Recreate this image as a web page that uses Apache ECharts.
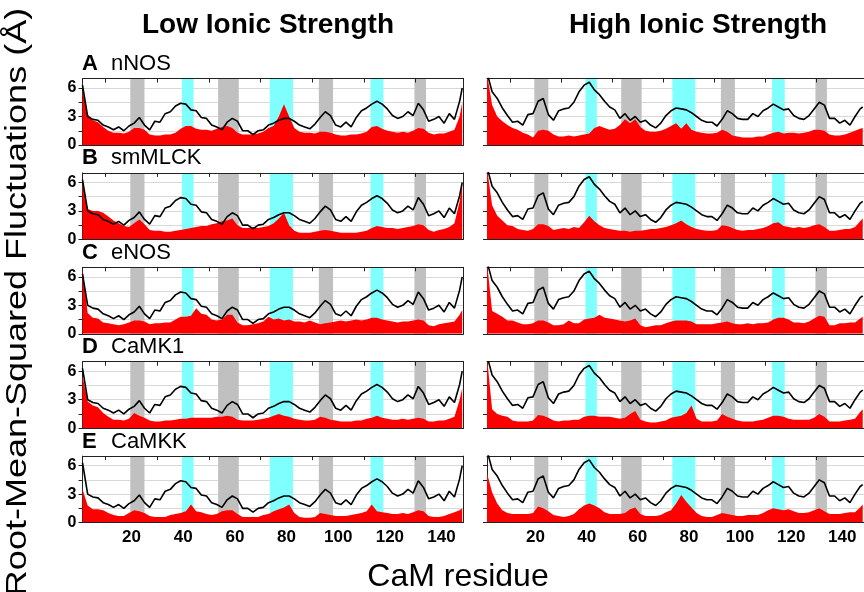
<!DOCTYPE html>
<html>
<head>
<meta charset="utf-8">
<script src="https://cdn.jsdelivr.net/npm/echarts@6/dist/echarts.min.js"></script>
<style>
  html, body { margin: 0; padding: 0; background: #fff; }
  #chart { width: 864px; height: 592px; }
</style>
</head>
<body>
<div id="chart"></div>
<script>
// residue numbers (every second residue)
const residues = [1,3,5,7,9,11,13,15,17,19,21,23,25,27,29,31,33,35,37,39,
  41,43,45,47,49,51,53,55,57,59,61,63,65,67,69,71,73,75,77,79,
  81,83,85,87,89,91,93,95,97,99,101,103,105,107,109,111,113,115,117,119,
  121,123,125,127,129,131,133,135,137,139,141,143,145,147,148];

// shaded regions (residue ranges)
const grayBands = [[19.5, 25], [53.5, 61.5], [92.5, 98], [129.5, 134]];
const cyanBands = [[39.5, 44], [73.5, 82.5], [112.5, 117.5]];

const xTickLabels = [20, 40, 60, 80, 100, 120, 140];
const topTicks = [10, 30, 50, 70, 90, 110, 130];
const yTickLabels = [0, 3, 6];
const yTicks = [0, 1.5, 3, 4.5, 6];

const letters = ['A', 'B', 'C', 'D', 'E'];
const peptides = ['nNOS', 'smMLCK', 'eNOS', 'CaMK1', 'CaMKK'];

// black line: free CaM, same in every panel of a column
const freeLow = [6.3,3.0,2.7,2.6,2.1,1.9,1.6,1.9,1.5,2.0,
  2.3,2.9,2.1,1.6,2.5,2.4,3.3,3.5,4.1,4.4,
  4.3,3.7,3.6,2.9,2.8,2.1,1.9,1.6,2.4,2.8,
  2.5,1.5,1.5,1.1,1.5,1.6,2.1,2.3,2.6,2.8,
  2.8,2.5,2.1,1.9,1.7,2.2,2.9,3.5,3.1,2.1,
  1.9,2.4,1.9,2.9,3.6,3.9,4.3,4.6,4.3,3.8,
  3.1,2.8,3.0,3.5,3.1,4.4,3.7,2.5,2.7,3.0,
  2.3,3.3,2.7,4.6,6.0];
const freeHigh = [7.6,5.6,4.9,3.9,3.1,2.4,2.5,2.1,3.2,3.3,
  4.6,4.9,3.2,2.6,3.6,3.8,3.9,4.5,5.6,6.3,
  6.6,5.8,5.3,4.6,4.0,3.7,2.8,3.3,2.6,3.0,
  2.4,2.6,2.1,1.8,2.3,3.1,3.6,3.9,3.8,3.7,
  3.4,3.0,2.6,2.4,2.4,2.0,2.7,3.6,3.3,2.8,
  2.7,2.7,3.3,3.0,3.6,3.9,4.3,4.0,3.7,3.8,
  3.1,2.8,2.7,3.1,3.8,4.5,4.2,2.8,2.8,2.3,
  2.6,2.1,3.0,3.8,4.0];

// red fill: CaM bound to each peptide
const lowNNOS = [5.8,3.2,2.6,2.4,1.9,1.5,1.3,1.3,1.2,1.4, 1.8,1.8,1.6,1.1,1.0,1.0,1.1,1.1,1.3,1.7,
  2.0,2.0,1.7,1.6,1.6,1.5,1.7,1.9,2.0,1.8, 1.3,1.1,1.1,1.1,1.2,1.4,1.8,2.0,3.0,4.3,
  3.0,1.8,1.4,1.3,1.3,1.2,1.4,1.4,1.3,1.1, 1.0,1.0,1.1,1.1,1.2,1.4,1.9,2.0,1.7,1.5,
  1.4,1.3,1.4,1.3,1.5,1.8,1.7,1.3,1.1,1.2, 1.2,1.4,1.6,3.0,4.5];
const lowSMMLCK = [6.0,3.2,3.0,3.0,2.8,2.4,2.0,1.7,1.4,1.3, 1.7,2.1,1.6,1.0,0.9,0.9,0.8,0.8,0.9,1.0,
  1.1,1.2,1.3,1.4,1.4,1.6,1.7,1.9,2.0,2.2, 1.5,1.2,1.2,1.3,1.2,1.3,1.4,1.7,2.2,2.8,
  1.5,0.9,0.7,0.7,0.7,0.8,0.9,1.0,0.9,0.8, 0.7,0.7,0.7,0.7,0.8,0.9,1.2,1.4,1.3,1.2,
  1.2,1.1,1.2,1.3,1.4,1.6,1.5,1.0,0.8,1.0, 1.1,1.3,1.7,4.0,6.0];
const lowENOS = [6.9,2.2,1.7,1.6,1.2,1.1,1.0,0.9,1.0,1.2, 1.4,1.4,1.3,1.0,1.1,1.1,1.2,1.2,1.5,1.8,
  1.8,1.9,2.7,2.1,2.0,1.5,1.4,1.5,2.0,2.0, 1.2,0.9,0.9,1.0,1.1,1.3,1.8,1.5,1.6,1.4,
  1.5,1.3,1.3,1.2,1.4,1.2,1.0,1.1,1.2,1.3, 1.4,1.3,1.4,1.5,1.4,1.5,1.7,1.7,1.5,1.4,
  1.3,1.2,1.3,1.3,1.4,1.5,1.4,0.9,0.8,1.0, 1.1,1.2,1.3,2.0,2.5];
const lowCAMK1 = [5.5,2.8,2.4,2.2,1.6,1.2,0.9,0.9,0.8,1.0, 1.6,1.3,1.1,0.8,0.7,0.7,0.8,0.8,0.9,1.0,
  1.0,1.1,1.1,1.1,1.1,1.1,1.2,1.2,1.3,1.2, 0.9,0.8,0.8,0.8,0.9,1.0,1.1,1.3,1.5,1.3,
  1.2,1.0,0.9,0.8,0.8,0.9,1.2,1.1,0.9,0.8, 0.7,0.7,0.7,0.8,0.8,1.0,1.1,1.3,1.1,1.0,
  0.9,0.9,1.0,0.9,1.0,1.1,1.0,0.7,0.7,0.8, 0.8,1.0,1.2,3.0,4.2];
const lowCAMKK = [3.5,1.8,1.4,1.4,1.3,1.0,0.8,0.7,0.7,1.0, 1.3,1.2,1.0,0.7,0.6,0.6,0.6,0.8,0.9,1.0,
  1.2,1.9,1.2,1.1,0.9,0.8,0.9,1.2,1.3,1.3, 0.9,0.6,0.6,0.6,0.6,0.8,0.9,1.2,1.4,1.6,
  1.9,1.0,0.6,0.5,0.5,0.6,1.0,0.9,0.8,0.7, 0.7,0.7,0.8,0.9,1.0,1.2,1.9,1.2,1.1,1.0,
  0.9,0.9,1.0,0.9,1.1,1.3,1.2,0.7,0.6,0.6, 0.7,0.9,1.1,1.3,1.5];

const highNNOS = [7.5,4.2,3.0,2.5,2.1,1.8,1.6,1.3,1.1,0.8, 1.5,1.6,1.5,1.1,0.9,0.9,1.0,0.9,1.0,1.1,
  1.2,1.8,2.0,1.8,1.6,1.7,2.1,2.7,2.3,2.7, 1.9,1.5,1.4,1.4,1.5,1.7,2.0,2.3,1.7,2.3,
  1.6,1.4,1.3,1.2,1.2,1.3,1.6,1.4,1.0,0.9, 0.8,0.8,0.8,0.9,0.9,1.1,1.3,1.4,1.2,1.3,
  1.3,1.2,1.3,1.4,1.6,1.6,1.5,1.1,1.0,1.0, 1.1,1.3,1.5,1.7,1.8];
const highSMMLCK = [7.5,3.6,2.5,2.0,1.5,1.4,1.1,1.0,0.9,1.1, 1.6,1.6,1.4,1.0,1.1,1.2,1.1,1.3,1.2,1.8,
  2.5,1.9,1.5,1.2,1.1,1.0,0.9,0.9,0.8,0.9, 0.9,1.0,1.1,1.1,1.2,1.3,1.5,1.7,2.0,1.6,
  1.3,1.1,1.0,0.9,0.9,1.0,1.5,1.4,1.2,1.0, 0.9,1.0,1.0,1.1,1.2,1.4,1.7,1.8,1.4,1.3,
  1.2,1.3,1.2,1.3,1.5,1.6,1.3,0.9,0.9,1.0, 1.1,1.1,1.3,1.9,2.2];
const highENOS = [7.5,2.4,2.1,1.8,1.4,1.4,1.2,1.0,1.0,1.1, 1.4,1.4,1.2,0.9,0.9,1.0,1.4,1.1,1.1,1.5,
  1.6,1.7,2.0,1.7,1.6,1.5,1.4,1.3,1.4,1.6, 0.9,0.7,0.8,0.9,0.9,1.1,1.3,1.4,1.4,1.4,
  1.3,1.0,1.0,1.0,1.0,1.1,1.2,1.3,1.1,1.0, 1.0,1.1,1.0,1.1,1.1,1.2,1.5,1.7,1.7,1.5,
  1.2,1.2,1.1,1.3,1.6,1.9,1.8,0.9,0.9,1.1, 1.1,1.2,1.2,1.6,1.8];
const highCAMK1 = [7.5,2.0,1.5,1.3,1.2,0.8,0.7,0.7,0.7,0.8, 1.4,1.3,1.1,0.8,0.7,0.8,0.8,0.9,0.9,1.2,
  1.3,1.3,1.2,1.2,1.2,1.1,1.0,1.1,1.5,1.8, 0.9,0.7,0.6,0.6,0.7,0.8,1.1,1.2,1.3,1.6,
  2.4,1.0,0.7,0.7,0.7,0.8,1.5,1.2,1.0,0.8, 0.7,0.7,0.7,0.8,0.9,1.1,1.3,1.3,1.2,1.0,
  0.9,0.9,0.9,0.9,1.1,1.5,1.2,0.7,0.7,0.7, 0.8,0.9,1.0,1.7,2.0];
const highCAMKK = [5.2,3.2,2.0,1.3,1.0,0.9,0.9,0.9,0.9,1.0, 1.7,1.5,1.2,0.8,0.7,0.6,0.7,0.9,1.4,1.8,
  2.0,1.8,1.5,1.1,0.9,0.9,0.9,1.0,1.4,1.6, 0.9,0.7,0.7,0.7,0.8,1.1,1.3,2.0,2.9,2.2,
  1.6,1.0,0.7,0.6,0.6,0.8,1.0,0.9,0.8,0.7, 0.7,0.8,0.8,0.8,1.0,1.3,1.5,1.4,1.3,1.4,
  1.2,1.0,1.0,1.1,1.3,1.5,1.2,0.9,0.9,0.9, 1.0,1.1,1.1,1.6,1.9];

const lowSets = [lowNNOS, lowSMMLCK, lowENOS, lowCAMK1, lowCAMKK];
const highSets = [highNNOS, highSMMLCK, highENOS, highCAMK1, highCAMKK];

const FONT = '"Liberation Sans", Arial, Helvetica, sans-serif';
const frame = { color: '#222', width: 1 };

const pairs = (vals) => residues.map((r, i) => [r, vals[i]]);

const grid = [], xAxis = [], yAxis = [], series = [];

for (let row = 0; row < 5; row++) {
  for (let col = 0; col < 2; col++) {
    const g = grid.length;
    grid.push({
      left: col === 0 ? 82.5 : 487,
      top: 78.5 + row * 94.4,
      width: 381,
      height: 66.5
    });
    // bottom axis
    xAxis.push({
      gridIndex: g, type: 'value', min: 1, max: 148.5, position: 'bottom', z: 3,
      axisLine: { show: true, onZero: false, lineStyle: frame },
      axisTick: { show: false },
      axisLabel: {
        show: row === 4, customValues: xTickLabels, margin: 6,
        color: '#000', fontWeight: 'bold', fontSize: 17, fontFamily: FONT
      },
      splitLine: { show: false }
    });
    // top axis (frame + inward ticks)
    xAxis.push({
      gridIndex: g, type: 'value', min: 1, max: 148.5, position: 'top', z: 3,
      axisLine: { show: true, onZero: false, lineStyle: frame },
      axisTick: { show: true, inside: true, length: 4, customValues: topTicks, lineStyle: frame },
      axisLabel: { show: false },
      splitLine: { show: false }
    });
    // left axis with grid lines
    yAxis.push({
      gridIndex: g, type: 'value', min: 0, max: 7, interval: 1.5, position: 'left', z: 0,
      axisLine: { show: true, onZero: false, lineStyle: frame },
      axisTick: { show: true, length: 4, customValues: yTicks, lineStyle: frame },
      axisLabel: {
        show: col === 0, customValues: yTickLabels, margin: 6,
        color: '#000', fontWeight: 'bold', fontSize: 16, fontFamily: FONT
      },
      splitLine: { show: true, lineStyle: { color: '#d9d9d9', width: 1 } }
    });
    // right frame
    yAxis.push({
      gridIndex: g, type: 'value', min: 0, max: 7, position: 'right', z: 3,
      axisLine: { show: true, onZero: false, lineStyle: frame },
      axisTick: { show: false }, axisLabel: { show: false }, splitLine: { show: false }
    });

    const xi = 2 * g, yi = 2 * g;
    const areas = [];
    grayBands.forEach(b => areas.push([{ xAxis: b[0], itemStyle: { color: '#c0c0c0' } }, { xAxis: b[1] }]));
    cyanBands.forEach(b => areas.push([{ xAxis: b[0], itemStyle: { color: '#80ffff' } }, { xAxis: b[1] }]));

    series.push({
      type: 'line', xAxisIndex: xi, yAxisIndex: yi, data: [], z: 1, silent: true,
      markArea: { silent: true, itemStyle: { opacity: 1 }, data: areas }
    });
    series.push({
      type: 'line', xAxisIndex: xi, yAxisIndex: yi, z: 2, silent: true,
      data: pairs(col === 0 ? lowSets[row] : highSets[row]),
      symbol: 'none', lineStyle: { width: 0 },
      areaStyle: { color: '#ff0000', opacity: 1 }
    });
    series.push({
      type: 'line', xAxisIndex: xi, yAxisIndex: yi, z: 4, silent: true,
      data: pairs(col === 0 ? freeLow : freeHigh),
      symbol: 'none', lineStyle: { color: '#000', width: 1.6 }
    });
  }
}

const graphic = [
  { type: 'text', x: 268, y: 25, style: { text: 'Low Ionic Strength', font: 'bold 28px ' + FONT, fill: '#000', align: 'center', verticalAlign: 'middle', textAlign: 'center', textVerticalAlign: 'middle' } },
  { type: 'text', x: 698, y: 25, style: { text: 'High Ionic Strength', font: 'bold 28px ' + FONT, fill: '#000', align: 'center', verticalAlign: 'middle', textAlign: 'center', textVerticalAlign: 'middle' } },
  { type: 'text', x: 458, y: 577, style: { text: 'CaM residue', font: '32px ' + FONT, fill: '#000', align: 'center', verticalAlign: 'middle', textAlign: 'center', textVerticalAlign: 'middle' } },
  // y title: long and thin in the figure, so squeeze the glyph height a little
  { type: 'text', x: 18, y: 302, rotation: Math.PI / 2, scaleY: 0.8, style: { text: 'Root-Mean-Squared Fluctuations (Å)', font: '36px ' + FONT, fill: '#000', align: 'center', verticalAlign: 'middle', textAlign: 'center', textVerticalAlign: 'middle' } }
];
letters.forEach((l, i) => {
  const y = 64 + i * 94.4;
  graphic.push({ type: 'text', x: 82, y: y, style: { text: l, font: 'bold 22px ' + FONT, fill: '#000', align: 'left', verticalAlign: 'middle', textAlign: 'left', textVerticalAlign: 'middle' } });
  graphic.push({ type: 'text', x: 111, y: y, style: { text: peptides[i], font: '22px ' + FONT, fill: '#000', align: 'left', verticalAlign: 'middle', textAlign: 'left', textVerticalAlign: 'middle' } });
});

const chart = echarts.init(document.getElementById('chart'), null, { renderer: 'canvas' });
chart.setOption({
  animation: false,
  backgroundColor: '#fff',
  grid, xAxis, yAxis, series, graphic
});
</script>
</body>
</html>
